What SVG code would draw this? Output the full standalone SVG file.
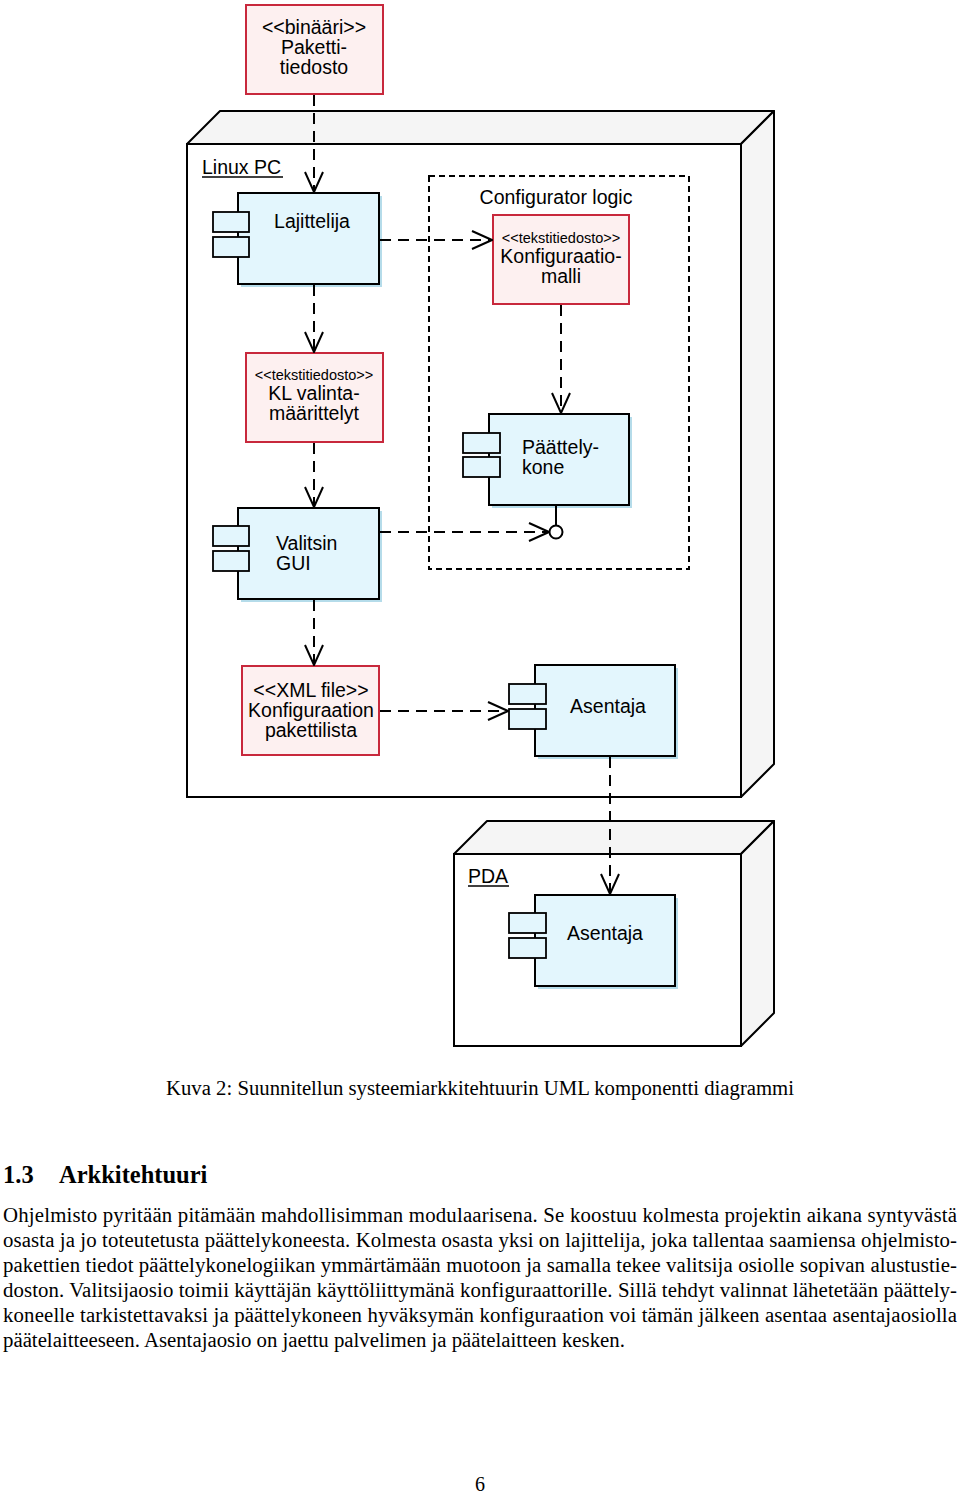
<svg xmlns="http://www.w3.org/2000/svg" width="960" height="1495" viewBox="0 0 960 1495">
<defs>
<style>
.node{fill:#ffffff;stroke:#000;stroke-width:2}
.face{fill:#f5f5f5;stroke:#000;stroke-width:2;stroke-linejoin:round}
.comp{fill:#e3f6fd;stroke:#000;stroke-width:2}
.shadow{fill:#b5dcea}
.port{fill:#e3f6fd;stroke:#000;stroke-width:1.8}
.art{fill:#fdf0f0;stroke:#c8283c;stroke-width:2}
.pkg{fill:none;stroke:#000;stroke-width:2;stroke-dasharray:6 4}
.dep{fill:none;stroke:#000;stroke-width:2;stroke-dasharray:11 7}
.t{font-family:"Liberation Sans",Arial,sans-serif;font-size:19.5px;fill:#000}
.c{text-anchor:middle}
.s{font-size:14.5px}
.serif{font-family:"Liberation Serif","Times New Roman",serif;fill:#000}
</style>
<marker id="open" viewBox="0 0 22 20" refX="21" refY="10" markerWidth="22" markerHeight="20" markerUnits="userSpaceOnUse" orient="auto">
<path d="M1,1 L21,10 L1,19" fill="none" stroke="#000" stroke-width="2"/>
</marker>
</defs>

<g id="linux-pc">
<polygon class="face" points="187,144 220,111 774,111 741,144"/>
<polygon class="face" points="741,144 774,111 774,764 741,797"/>
<rect class="node" x="187" y="144" width="554" height="653"/>
<text class="t" x="202" y="174">Linux PC</text>
<line x1="202" y1="177" x2="283" y2="177" stroke="#000" stroke-width="1.5"/>
</g>

<g id="pda">
<polygon class="face" points="454,854 487,821 774,821 741,854"/>
<polygon class="face" points="741,854 774,821 774,1013 741,1046"/>
<rect class="node" x="454" y="854" width="287" height="192"/>
<text class="t" x="468" y="883">PDA</text>
<line x1="468" y1="886" x2="509" y2="886" stroke="#000" stroke-width="1.5"/>
</g>

<g id="configurator-logic">
<rect class="pkg" x="429" y="176" width="260" height="393"/>
<text class="t c" x="556" y="204">Configurator logic</text>
</g>

<g id="pakettitiedosto">
<rect class="art" x="246" y="5" width="137" height="89"/>
<text class="t c" x="314" y="34">&lt;&lt;binääri&gt;&gt;</text>
<text class="t c" x="314" y="54">Paketti-</text>
<text class="t c" x="314" y="74">tiedosto</text>
</g>

<g id="lajittelija">
<rect class="shadow" x="241" y="196" width="141" height="91"/>
<rect class="comp" x="238" y="193" width="141" height="91"/>
<rect class="port" x="213" y="212" width="36" height="20"/>
<rect class="port" x="213" y="237" width="36" height="20"/>
<text class="t c" x="312" y="228">Lajittelija</text>
</g>

<g id="konfiguraatiomalli">
<rect class="art" x="493" y="215" width="136" height="89"/>
<text class="t c s" x="561" y="243">&lt;&lt;tekstitiedosto&gt;&gt;</text>
<text class="t c" x="561" y="263">Konfiguraatio-</text>
<text class="t c" x="561" y="283">malli</text>
</g>

<g id="kl-valintamaarittelyt">
<rect class="art" x="246" y="353" width="137" height="89"/>
<text class="t c s" x="314" y="380">&lt;&lt;tekstitiedosto&gt;&gt;</text>
<text class="t c" x="314" y="400">KL valinta-</text>
<text class="t c" x="314" y="420">määrittelyt</text>
</g>

<g id="paattelykone">
<rect class="shadow" x="492" y="417" width="140" height="91"/>
<rect class="comp" x="489" y="414" width="140" height="91"/>
<rect class="port" x="463" y="433" width="37" height="20"/>
<rect class="port" x="463" y="457" width="37" height="20"/>
<text class="t" x="522" y="454">Päättely-</text>
<text class="t" x="522" y="474">kone</text>
<line x1="556" y1="505" x2="556" y2="526" stroke="#000" stroke-width="2"/>
<circle cx="556" cy="532" r="6.5" fill="#fff" stroke="#000" stroke-width="2"/>
</g>

<g id="valitsin-gui">
<rect class="shadow" x="241" y="511" width="141" height="91"/>
<rect class="comp" x="238" y="508" width="141" height="91"/>
<rect class="port" x="213" y="526" width="36" height="20"/>
<rect class="port" x="213" y="551" width="36" height="20"/>
<text class="t" x="276" y="550">Valitsin</text>
<text class="t" x="276" y="570">GUI</text>
</g>

<g id="konfiguraation-pakettilista">
<rect class="art" x="242" y="666" width="137" height="89"/>
<text class="t c" x="311" y="697">&lt;&lt;XML file&gt;&gt;</text>
<text class="t c" x="311" y="717">Konfiguraation</text>
<text class="t c" x="311" y="737">pakettilista</text>
</g>

<g id="asentaja-pc">
<rect class="shadow" x="538" y="668" width="140" height="91"/>
<rect class="comp" x="535" y="665" width="140" height="91"/>
<rect class="port" x="509" y="684" width="37" height="20"/>
<rect class="port" x="509" y="709" width="37" height="20"/>
<text class="t c" x="608" y="713">Asentaja</text>
</g>

<g id="asentaja-pda">
<rect class="shadow" x="538" y="898" width="140" height="91"/>
<rect class="comp" x="535" y="895" width="140" height="91"/>
<rect class="port" x="509" y="913" width="37" height="20"/>
<rect class="port" x="509" y="938" width="37" height="20"/>
<text class="t c" x="605" y="940">Asentaja</text>
</g>

<g id="connectors">
<line class="dep" x1="314" y1="95" x2="314" y2="192" marker-end="url(#open)"/>
<line class="dep" x1="380" y1="240" x2="492" y2="240" marker-end="url(#open)"/>
<line class="dep" x1="314" y1="285" x2="314" y2="352" marker-end="url(#open)"/>
<line class="dep" x1="561" y1="305" x2="561" y2="413" marker-end="url(#open)"/>
<line class="dep" x1="314" y1="443" x2="314" y2="507" marker-end="url(#open)"/>
<line class="dep" x1="380" y1="532" x2="549" y2="532" marker-end="url(#open)"/>
<line class="dep" x1="314" y1="600" x2="314" y2="665" marker-end="url(#open)"/>
<line class="dep" x1="380" y1="711" x2="508" y2="711" marker-end="url(#open)"/>
<line class="dep" x1="610" y1="757" x2="610" y2="894" marker-end="url(#open)"/>
</g>

<g id="text">
<text class="serif" x="166" y="1095" font-size="20" textLength="628" lengthAdjust="spacingAndGlyphs">Kuva 2: Suunnitellun systeemiarkkitehtuurin UML komponentti diagrammi</text>
<text class="serif" x="3" y="1183" font-size="24.5" font-weight="bold">1.3</text>
<text class="serif" x="59" y="1183" font-size="24.5" font-weight="bold">Arkkitehtuuri</text>
<g font-size="20.8">
<text class="serif" x="3" y="1222" textLength="954" lengthAdjust="spacing">Ohjelmisto pyritään pitämään mahdollisimman modulaarisena. Se koostuu kolmesta projektin aikana syntyvästä</text>
<text class="serif" x="3" y="1247" textLength="954" lengthAdjust="spacing">osasta ja jo toteutetusta päättelykoneesta. Kolmesta osasta yksi on lajittelija, joka tallentaa saamiensa ohjelmisto-</text>
<text class="serif" x="3" y="1272" textLength="954" lengthAdjust="spacing">pakettien tiedot päättelykonelogiikan ymmärtämään muotoon ja samalla tekee valitsija osiolle sopivan alustustie-</text>
<text class="serif" x="3" y="1297" textLength="954" lengthAdjust="spacing">doston. Valitsijaosio toimii käyttäjän käyttöliittymänä konfiguraattorille. Sillä tehdyt valinnat lähetetään päättely-</text>
<text class="serif" x="3" y="1322" textLength="954" lengthAdjust="spacing">koneelle tarkistettavaksi ja päättelykoneen hyväksymän konfiguraation voi tämän jälkeen asentaa asentajaosiolla</text>
<text class="serif" x="3" y="1347">päätelaitteeseen. Asentajaosio on jaettu palvelimen ja päätelaitteen kesken.</text>
</g>
<text class="serif" x="480" y="1491" font-size="20" text-anchor="middle">6</text>
</g>
</svg>
